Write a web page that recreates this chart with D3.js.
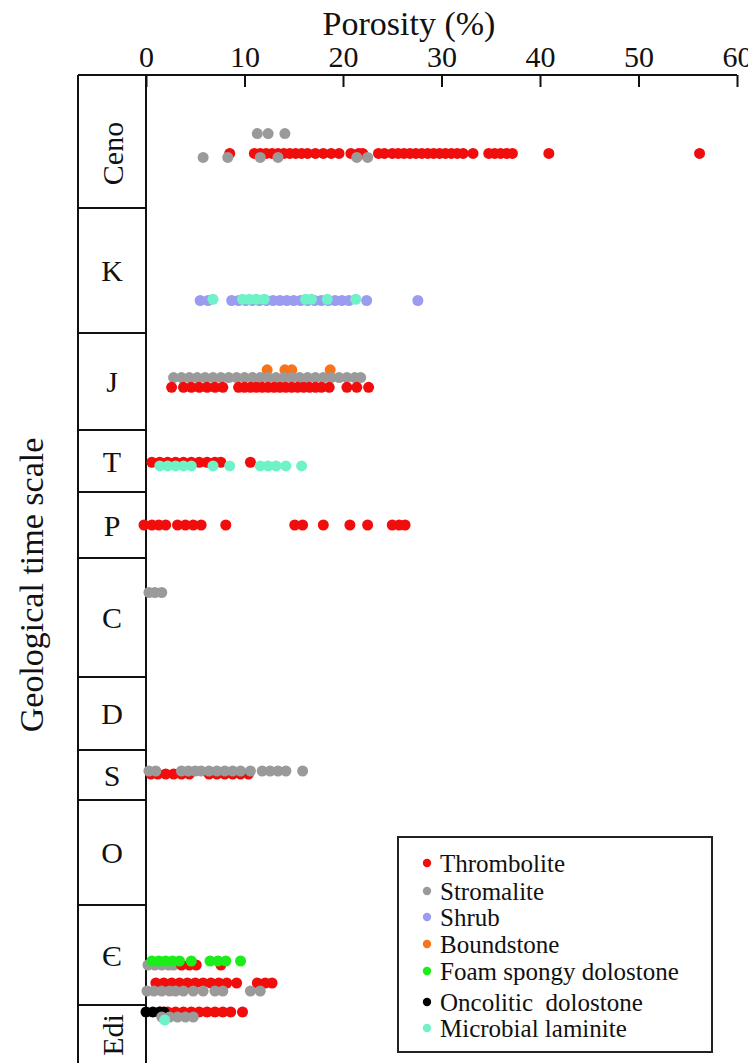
<!DOCTYPE html>
<html>
<head>
<meta charset="utf-8">
<script src="https://cdnjs.cloudflare.com/ajax/libs/d3/7.8.5/d3.min.js"></script>
<style>
  body { margin: 0; background: #fff; }
</style>
</head>
<body>
<div id="chart"></div>
<script>
// geological periods, top to bottom, with the relative height of each band
const periods = ["Ceno", "K", "J", "T", "P", "C", "D", "S", "O", "Є", "Edi"];
const periodSpan = [133, 125, 97, 62, 66, 119, 73, 50, 105, 100, 100];
const rotatedPeriods = ["Ceno", "Edi"];

// rock types for the legend
const types = ["Thrombolite", "Stromalite", "Shrub", "Boundstone",
  "Foam spongy dolostone", "Oncolitic  dolostone", "Microbial laminite"];
const typeColors = ["#f20d0d", "#9a9a9a", "#9b9bf0", "#f8731a", "#19ee19", "#000000", "#6ff2c8"];

const xTicks = [0, 10, 20, 30, 40, 50, 60];

// porosity rows (%); lane = position inside the period band (0 top, 1 bottom)
const cenoRows = [
  { type: "Stromalite", lane: 0.44, values: [11.3, 12.4, 14.1] },
  { type: "Thrombolite", lane: 0.59, values: [8.5, 11.0, 11.6, 12.2, 12.8, 13.4, 14.0, 14.6, 15.2, 15.8, 16.4, 17.2, 18.0, 18.8, 19.6, 20.8, 21.6, 22.0, 23.6, 24.2, 25.0, 25.6, 26.2, 26.8, 27.4, 28.0, 28.6, 29.2, 29.8, 30.4, 31.0, 31.6, 32.2, 33.2, 34.8, 35.4, 36.0, 36.6, 37.2, 40.9, 56.2] },
  { type: "Stromalite", lane: 0.62, values: [5.8, 8.3, 11.6, 13.4, 21.4, 22.5] }
];
const kRows = [
  { type: "Shrub", lane: 0.74, values: [5.5, 6.3, 8.7, 9.4, 10.1, 10.8, 11.5, 12.2, 12.9, 13.6, 14.3, 15.0, 15.7, 16.4, 17.1, 17.8, 18.5, 19.2, 19.9, 20.6, 22.4, 27.6] },
  { type: "Microbial laminite", lane: 0.73, values: [6.8, 9.8, 10.5, 11.2, 12.0, 16.2, 16.8, 18.4, 21.3] }
];
const jRows = [
  { type: "Boundstone", lane: 0.38, values: [12.3, 14.1, 14.8, 18.7] },
  { type: "Stromalite", lane: 0.46, values: [2.8, 3.6, 4.4, 5.2, 6.0, 6.8, 7.6, 8.4, 9.2, 10.0, 10.8, 11.6, 12.4, 13.2, 14.0, 14.8, 15.6, 16.4, 17.2, 18.0, 18.8, 19.6, 20.4, 21.2, 21.8] },
  { type: "Thrombolite", lane: 0.56, values: [2.6, 3.8, 4.6, 5.4, 6.2, 7.0, 7.8, 9.4, 10.0, 10.6, 11.2, 11.8, 12.4, 13.0, 13.6, 14.2, 14.8, 15.4, 16.0, 16.6, 17.2, 17.8, 18.6, 20.4, 21.4, 22.6] }
];
const tRows = [
  { type: "Thrombolite", lane: 0.52, values: [0.6, 1.4, 2.2, 3.0, 3.8, 4.6, 5.4, 6.2, 7.0, 7.6, 10.6] },
  { type: "Microbial laminite", lane: 0.58, values: [1.4, 2.2, 3.0, 3.8, 4.6, 6.8, 8.5, 11.6, 12.4, 13.2, 14.2, 15.8] }
];
const pRows = [
  { type: "Thrombolite", lane: 0.5, values: [-0.2, 0.6, 1.3, 2.0, 3.2, 4.0, 4.8, 5.6, 8.1, 15.1, 15.9, 18.0, 20.7, 22.5, 25.0, 25.7, 26.3] }
];
const cRows = [
  { type: "Stromalite", lane: 0.29, values: [0.3, 0.9, 1.6] }
];
const sRows = [
  { type: "Thrombolite", lane: 0.48, values: [0.5, 1.2, 2.0, 2.8, 3.6, 4.4, 6.4, 7.2, 8.0, 8.8, 9.6, 10.4] },
  { type: "Stromalite", lane: 0.42, values: [0.3, 1.0, 3.6, 4.3, 5.0, 5.6, 6.4, 7.2, 8.0, 8.8, 9.6, 10.6, 11.8, 12.6, 13.4, 14.2, 15.9] }
];
const cambRows = [
  { type: "Stromalite", lane: 0.60, values: [0.2, 0.9, 1.6, 2.3, 2.8] },
  { type: "Thrombolite", lane: 0.60, values: [3.6, 4.4, 5.1, 7.6] },
  { type: "Foam spongy dolostone", lane: 0.56, values: [0.6, 1.3, 2.0, 2.7, 3.4, 4.6, 6.5, 7.3, 8.1, 9.6] },
  { type: "Thrombolite", lane: 0.78, values: [1.0, 1.8, 2.6, 3.4, 4.2, 5.0, 5.8, 6.6, 7.4, 8.2, 9.2, 11.3, 12.1, 12.8] },
  { type: "Stromalite", lane: 0.86, values: [0.1, 0.8, 1.6, 2.4, 3.0, 3.8, 4.8, 5.8, 7.0, 7.8, 10.6, 11.6] }
];
const ediRows = [
  { type: "Thrombolite", lane: 0.07, values: [1.4, 2.2, 3.0, 3.8, 4.6, 5.4, 6.2, 7.0, 7.8, 8.6, 9.8] },
  { type: "Oncolitic  dolostone", lane: 0.07, values: [0.0, 0.7, 1.4, 1.8] },
  { type: "Stromalite", lane: 0.12, values: [1.6, 2.4, 3.2, 4.0, 4.8] },
  { type: "Microbial laminite", lane: 0.15, values: [1.9] }
];
const rowsByPeriod = { "Ceno": cenoRows, "K": kRows, "J": jRows, "T": tRows, "P": pRows,
  "C": cRows, "S": sRows, "Є": cambRows, "Edi": ediRows };

let svgWidth = 748;
let svgHeight = 1063;
let plotLeft = 146, plotRight = 737, plotTop = 75;
let boxLeft = 78;
let serif = "Liberation Serif";

let svg = d3.select("#chart").append("svg")
  .attr("width", svgWidth)
  .attr("height", svgHeight);

let x = d3.scaleLinear().domain([0, 60]).range([plotLeft, plotRight]);
let color = d3.scaleOrdinal().domain(types).range(typeColors);

// cumulative band edges for the periods
let edges = [0];
periodSpan.forEach((s, i) => edges.push(edges[i] + s));
let y = d3.scaleLinear().domain([0, edges[edges.length - 1]]).range([plotTop, plotTop + edges[edges.length - 1]]);

// axis title
svg.append("text")
  .attr("x", 409).attr("y", 35)
  .attr("text-anchor", "middle")
  .style("font-family", serif)
  .style("font-size", "34px")
  .style("fill", "#111")
  .text("Porosity (%)");

// top axis, ticks pointing down into the plot
let topAxis = d3.axisTop(x).tickValues(xTicks).tickSize(-12).tickSizeOuter(0).tickPadding(8);
let axisG = svg.append("g")
  .attr("transform", `translate(0,${plotTop})`)
  .call(topAxis);
axisG.select(".domain").remove();
axisG.selectAll(".tick line").attr("stroke", "#111").attr("stroke-width", 2);
axisG.selectAll(".tick text")
  .style("font-family", serif)
  .style("font-size", "30px")
  .style("fill", "#111");

svg.append("line")
  .attr("x1", boxLeft).attr("x2", plotRight)
  .attr("y1", plotTop).attr("y2", plotTop)
  .attr("stroke", "#111").attr("stroke-width", 2);

// period column
svg.append("line")
  .attr("x1", boxLeft).attr("x2", boxLeft)
  .attr("y1", plotTop).attr("y2", svgHeight)
  .attr("stroke", "#111").attr("stroke-width", 2);
svg.append("line")
  .attr("x1", plotLeft).attr("x2", plotLeft)
  .attr("y1", plotTop).attr("y2", svgHeight)
  .attr("stroke", "#111").attr("stroke-width", 2);

periods.forEach((p, i) => {
  if (i > 0) {
    svg.append("line")
      .attr("x1", boxLeft).attr("x2", plotLeft)
      .attr("y1", y(edges[i])).attr("y2", y(edges[i]))
      .attr("stroke", "#111").attr("stroke-width", 2);
  }
  let cx = (boxLeft + plotLeft) / 2;
  let cy = (y(edges[i]) + y(edges[i + 1])) / 2;
  if (p === "Ceno") cy += 12;
  if (p === "Edi") cy = y(edges[i]) + 30;
  let t = svg.append("text")
    .attr("text-anchor", "middle")
    .attr("dominant-baseline", "central")
    .style("font-family", serif)
    .style("font-size", "30px")
    .style("fill", "#111")
    .text(p);
  if (rotatedPeriods.includes(p)) {
    t.attr("transform", `translate(${cx},${cy}) rotate(-90)`);
  } else {
    t.attr("x", cx).attr("y", cy);
  }
});

// y axis title
svg.append("text")
  .attr("transform", `translate(31,${585}) rotate(-90)`)
  .attr("text-anchor", "middle")
  .attr("dominant-baseline", "central")
  .style("font-family", serif)
  .style("font-size", "34px")
  .style("fill", "#111")
  .text("Geological time scale");

// points
let pointG = svg.append("g");
periods.forEach((p, i) => {
  let rows = rowsByPeriod[p] || [];
  rows.forEach(row => {
    let cy = y(edges[i] + row.lane * periodSpan[i]);
    pointG.append("g").selectAll("circle")
      .data(row.values)
      .enter()
      .append("circle")
      .attr("cx", d => x(d))
      .attr("cy", cy)
      .attr("r", 5.5)
      .attr("fill", color(row.type));
  });
});

// legend
let legend = svg.append("g");
legend.append("rect")
  .attr("x", 398).attr("y", 837)
  .attr("width", 314).attr("height", 215)
  .attr("fill", "#fff")
  .attr("stroke", "#222").attr("stroke-width", 2);
let legendY = [863, 891, 917, 944, 971, 1002, 1028];
types.forEach((t, i) => {
  legend.append("circle")
    .attr("cx", 427).attr("cy", legendY[i])
    .attr("r", 4.2)
    .attr("fill", color(t));
  legend.append("text")
    .attr("x", 440).attr("y", legendY[i])
    .attr("dominant-baseline", "central")
    .style("font-family", serif)
    .style("font-size", "25px")
    .style("fill", "#111")
    .style("white-space", "pre")
    .text(t);
});
</script>
</body>
</html>
